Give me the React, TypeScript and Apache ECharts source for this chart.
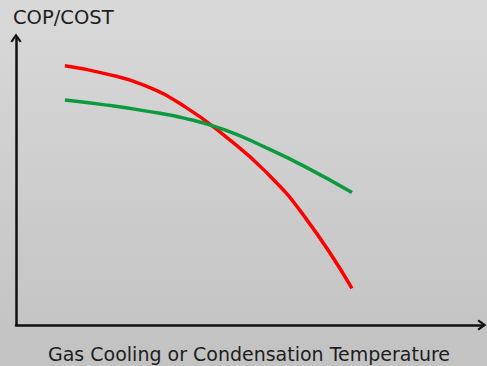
import React, { useEffect, useRef } from "react";
import * as echarts from "echarts";

// Curve samples (x: relative temperature 0-100, y: relative COP/COST 0-100)
const tempX = [10.5, 19.1, 27.7, 36.3, 44.8, 53.4, 62.0, 72.1];
const redY = [90.3, 87.6, 83.4, 76.0, 65.9, 53.7, 37.6, 12.8];
const greenY = [78.4, 76.7, 74.6, 72.0, 68.0, 62.0, 55.2, 46.2];

const yTitle = "COP/COST";
const xTitle = "Gas Cooling or Condensation Temperature";

const arrow = "path://M5,0 L10,7 L8.5,8.2 L5,3.2 L1.5,8.2 L0,7 Z";

export default function App() {
  const ref = useRef<HTMLDivElement>(null);
  useEffect(() => {
    if (!ref.current) return;
    const chart = echarts.init(ref.current, undefined, { renderer: "svg" });
    const axisLine = {
      show: true,
      onZero: false,
      symbol: ["none", arrow],
      symbolSize: [11, 10],
      lineStyle: { color: "#111", width: 2.5 },
    };
    chart.setOption({
      animation: false,
      backgroundColor: new echarts.graphic.LinearGradient(0, 0, 0, 1, [
        { offset: 0, color: "#d9d9d9" },
        { offset: 1, color: "#c2c2c2" },
      ]),
      grid: { left: 16, right: 5, top: 38, bottom: 41 },
      xAxis: {
        type: "value",
        min: 0,
        max: 100,
        axisLine,
        axisTick: { show: false },
        axisLabel: { show: false },
        splitLine: { show: false },
      },
      yAxis: {
        type: "value",
        min: 0,
        max: 100,
        axisLine,
        axisTick: { show: false },
        axisLabel: { show: false },
        splitLine: { show: false },
      },
      graphic: [
        {
          type: "text",
          left: 13,
          top: 7,
          style: { text: yTitle, fontFamily: "DejaVu Sans", fontSize: 19.5, fill: "#1e1e1e" },
        },
        {
          type: "text",
          left: 48,
          top: 344,
          style: { text: xTitle, fontFamily: "DejaVu Sans", fontSize: 19, fill: "#1e1e1e" },
        },
      ],
      series: [
        {
          type: "line",
          data: tempX.map((x, i) => [x, redY[i]]),
          smooth: 0.5,
          showSymbol: false,
          lineStyle: { color: "#ff0000", width: 3.5 },
        },
        {
          type: "line",
          data: tempX.map((x, i) => [x, greenY[i]]),
          smooth: 0.5,
          showSymbol: false,
          lineStyle: { color: "#0c9a3e", width: 3.5 },
        },
      ],
    });
    return () => chart.dispose();
  }, []);
  return (
    <div
      ref={ref}
      style={{ position: "fixed", left: 0, top: 0, width: 487, height: 366 }}
    />
  );
}
